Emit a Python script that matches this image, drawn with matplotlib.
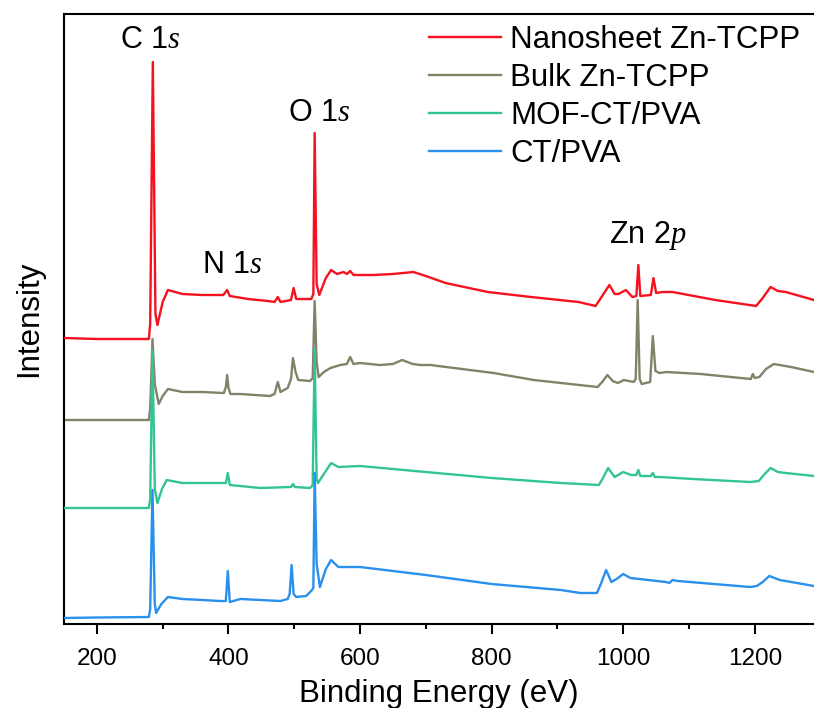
import numpy as np
import matplotlib
matplotlib.use('Agg')
import matplotlib.pyplot as plt

plt.rcParams['font.family'] = ['Liberation Sans', 'DejaVu Sans']
plt.rcParams['mathtext.fontset'] = 'custom'
plt.rcParams['mathtext.it'] = 'Liberation Serif:italic'
plt.rcParams['mathtext.rm'] = 'Liberation Sans'

cols = {}
cols['nano'] = '#F5121E'
cols['bulk'] = '#828269'
cols['mof'] = '#33C495'
cols['ct'] = '#2A90EE'

labels = ['Nanosheet Zn-TCPP', 'Bulk Zn-TCPP', 'MOF-CT/PVA', 'CT/PVA']

# survey spectra, binding energy (eV) vs offset intensity (a.u.)
e_nano = [150, 200, 279, 281, 285, 289, 292, 300, 308, 330, 360, 392, 398, 402,
          430, 460, 470, 475, 479, 495, 499, 503, 526, 529, 531, 534, 538, 548,
          556, 565, 575, 580, 585, 590, 620, 650, 681, 700, 730, 794, 860, 932,
          958, 968, 979, 987, 993, 1004, 1014, 1020, 1023, 1026, 1042, 1046,
          1050, 1060, 1075, 1140, 1202, 1212, 1224, 1235, 1247, 1290]
i_nano = [286, 285, 285, 300, 562, 310, 299, 322, 334, 330, 329, 329, 334, 328,
          325, 323, 322, 327, 322, 324, 336, 325, 325, 330, 491, 340, 329, 346,
          354, 350, 352, 350, 353, 349, 349, 350, 352, 348, 341, 332, 327, 322,
          318, 328, 339, 330, 330, 334, 327, 328, 359, 328, 329, 346,
          331, 332, 332, 324, 318, 326, 337, 333, 332, 324]

e_bulk = [150, 279, 281, 284.5, 288, 294, 300, 308, 330, 360, 393, 396, 398, 400,
          403, 418, 463, 470, 475, 479, 490, 495, 498, 502, 506, 524, 528, 531,
          534, 537, 545, 555, 570, 580, 585, 590, 600, 630, 650, 664, 680, 692,
          707, 803, 864, 961, 968, 976, 984, 992, 1001, 1016, 1019, 1022, 1025,
          1028, 1041, 1045, 1049, 1055, 1065, 1118, 1194, 1197, 1200, 1207,
          1217, 1229, 1255, 1290]
i_bulk = [204, 204, 215, 285, 240, 220, 228, 235, 232, 232, 231, 237, 249, 236,
          230, 230, 228, 230, 242, 232, 236, 245, 266, 252, 244, 243, 246, 323,
          262, 247, 252, 256, 259, 260, 267, 260, 261, 259, 260, 264, 260, 259,
          259, 251, 244, 237, 242, 249, 243, 241, 244, 242, 245, 324, 245,
          240, 242, 288, 253, 251, 252, 250, 245, 250, 246, 247,
          255, 260, 257, 252]

e_mof = [150, 279, 281, 284.5, 288, 292, 299, 306, 330, 360, 396, 399, 402, 448,
         495, 498, 501, 524, 528, 531, 534, 536, 545, 556, 567, 600, 700, 800,
         905, 935, 963, 970, 977, 987, 1000, 1012, 1020, 1023, 1026, 1042, 1045,
         1048, 1056, 1106, 1193, 1206, 1215, 1224, 1235, 1247, 1290]
i_mof = [116, 116, 125, 274, 135, 121, 135, 144, 141, 141, 141, 151, 139, 136,
         137, 140, 137, 136, 139, 276, 145, 141, 150, 161, 157, 158, 152, 146,
         141, 140, 139, 147, 156, 147, 152, 149, 149, 154, 148, 148, 151,
         147, 147, 145, 142, 143, 150, 156, 152, 151, 148]

e_ct = [150, 200, 279, 281, 284.5, 288, 290, 298, 308, 330, 360, 387, 396, 399,
        402, 418, 479, 490, 493, 496, 499, 503, 518, 527, 529, 531, 534, 539,
        548, 556, 567, 600, 700, 800, 905, 935, 960, 966, 974, 982, 990, 1000,
        1011, 1065, 1070, 1075, 1083, 1193, 1203, 1212, 1222, 1238, 1290]
i_ct = [6, 6.5, 7, 15, 134, 20, 11, 20, 27, 25, 24, 23, 23, 53,
        22, 25, 23, 25, 30, 59, 30, 27, 28, 34, 36, 151, 60, 37,
        55, 64, 57, 57, 49, 40, 34, 31, 31, 40, 54, 42, 45, 50,
        46, 42, 41, 44, 43, 37, 38, 42, 48, 44, 38]

fig = plt.figure(figsize=(8.14, 7.08), dpi=100)
ax = fig.add_axes([64 / 814, 84 / 708, 750 / 814, 610 / 708])

ax.plot(e_nano, i_nano, color=cols['nano'], lw=1.7, label=labels[0], zorder=5)
ax.plot(e_bulk, i_bulk, color=cols['bulk'], lw=1.7, label=labels[1], zorder=2)
ax.plot(e_mof, i_mof, color=cols['mof'], lw=1.7, label=labels[2], zorder=3)
ax.plot(e_ct, i_ct, color=cols['ct'], lw=1.7, label=labels[3], zorder=4)

ax.set_xlim(150, 1290)
ax.set_ylim(0, 610)

ax.set_xticks(np.arange(200, 1201, 200))
ax.set_xticks(np.arange(300, 1300, 200), minor=True)
ax.set_yticks([])
ax.tick_params(axis='x', which='major', direction='out', length=7, width=1.5,
               pad=10, labelsize=17.5)
ax.tick_params(axis='x', which='minor', direction='out', length=3.6, width=1.5)
for s in ['left', 'bottom', 'top']:
    ax.spines[s].set_linewidth(1.5)
ax.spines['right'].set_visible(False)

ax.set_xlabel('Binding Energy (eV)', fontsize=22.5, labelpad=7)
ax.set_ylabel('Intensity', fontsize=22.5, labelpad=14)

# peak assignments
fs = 22
ax.text(281, 584, r'C 1$\mathit{s}$', ha='center', va='center', fontsize=fs)
ax.text(405, 359, r'N 1$\mathit{s}$', ha='center', va='center', fontsize=fs)
ax.text(538, 511, r'O 1$\mathit{s}$', ha='center', va='center', fontsize=fs)
ax.text(1037, 389, r'Zn 2$\mathit{p}$', ha='center', va='center', fontsize=fs)

ax.legend(loc='upper right', bbox_to_anchor=(1.007, 1.012), frameon=False,
          fontsize=22.5, handlelength=2.3, handletextpad=0.3, labelspacing=0.25,
          borderaxespad=0.2)

fig.savefig('out.png', dpi=100)
